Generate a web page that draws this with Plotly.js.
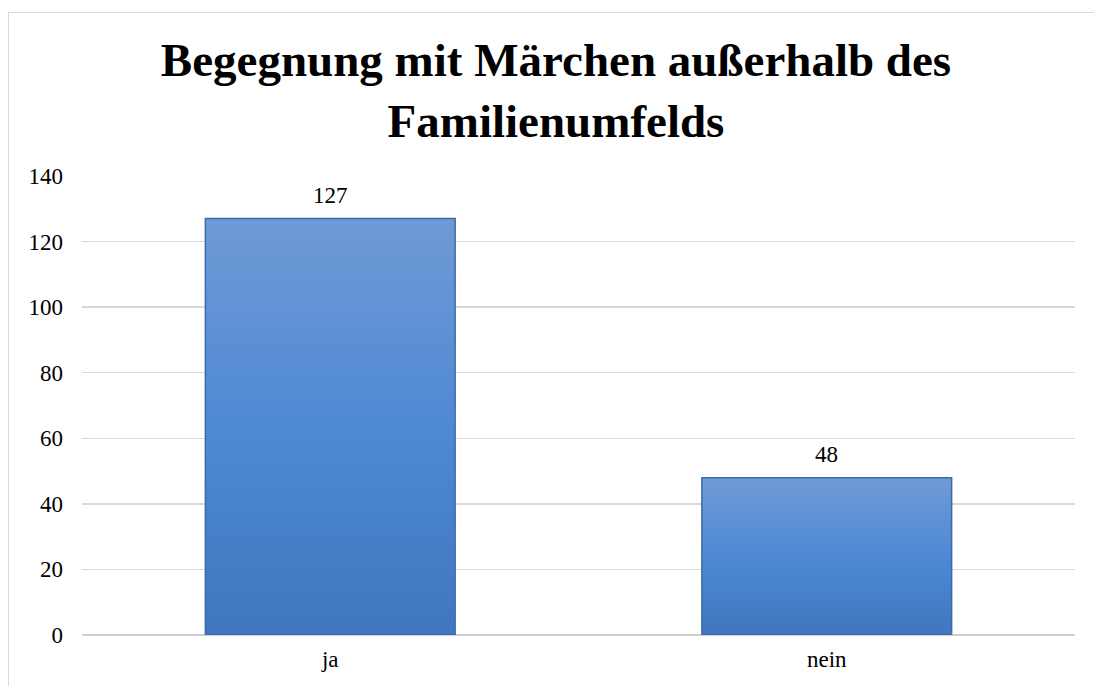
<!DOCTYPE html>
<html>
<head>
<meta charset="utf-8">
<script src="https://cdn.plot.ly/plotly-3.0.1.min.js"></script>
<style>
  html, body { margin: 0; padding: 0; background: #ffffff; }
  #wrap { position: relative; width: 1094px; height: 686px; overflow: hidden; }
  #chart { position: absolute; left: 0; top: 0; width: 1094px; height: 686px; }
  #frame { position: absolute; left: 8px; top: 12px; width: 1200px; height: 800px;
           border-left: 1.5px solid #d9d9d9; border-top: 1.5px solid #d9d9d9;
           pointer-events: none; box-sizing: border-box; }
</style>
</head>
<body>
<div id="wrap">
  <div id="chart"></div>
  <div id="frame"></div>
</div>
<script>
const categories = ["ja", "nein"];
const values = [127, 48];
const yTickValues = [0, 20, 40, 60, 80, 100, 120, 140];
const chartTitle = "Begegnung mit Märchen außerhalb des<br>Familienumfelds";

const serif = "Liberation Serif, Times New Roman, serif";

const trace = {
  type: "bar",
  x: categories,
  y: values,
  marker: { color: "#5089d4", line: { color: "#3b6aa6", width: 1.5 } },
  hoverinfo: "x+y"
};

const valueLabels = categories.map(function (c, i) {
  return {
    x: c, y: values[i], xref: "x", yref: "y",
    text: String(values[i]), showarrow: false,
    yanchor: "bottom", yshift: 9,
    font: { family: serif, size: 23, color: "#000000" }
  };
});

const layout = {
  width: 1094,
  height: 686,
  margin: { l: 82, r: 19, t: 176, b: 51 },
  paper_bgcolor: "#ffffff",
  plot_bgcolor: "#ffffff",
  bargap: 0.497,
  showlegend: false,
  annotations: valueLabels,
  title: {
    text: chartTitle,
    font: { family: serif, size: 47, color: "#000000", weight: "bold" },
    x: 556 / 1094,
    xanchor: "center",
    xref: "container",
    yref: "container",
    y: 1 - 76 / 686,
    yanchor: "middle"
  },
  xaxis: {
    type: "category",
    showgrid: false,
    zeroline: false,
    showline: false,
    ticks: "",
    tickfont: { family: serif, size: 23, color: "#000000" },
    ticklabelstandoff: 8
  },
  yaxis: {
    range: [0, 140],
    tickvals: yTickValues,
    ticktext: yTickValues.map(String),
    showgrid: true,
    gridcolor: "#d9d9d9",
    gridwidth: 1.3,
    zeroline: true,
    zerolinecolor: "#d0d0d0",
    zerolinewidth: 1.5,
    showline: false,
    ticks: "",
    ticklen: 0,
    tickfont: { family: serif, size: 23, color: "#000000" },
    ticklabelstandoff: 18
  }
};

Plotly.newPlot("chart", [trace], layout, { displayModeBar: false, staticPlot: true }).then(function (gd) {
  const svgNS = "http://www.w3.org/2000/svg";
  const svg = gd.querySelector("svg.main-svg");
  let defs = svg.querySelector("defs");
  if (!defs) { defs = document.createElementNS(svgNS, "defs"); svg.insertBefore(defs, svg.firstChild); }
  const grad = document.createElementNS(svgNS, "linearGradient");
  grad.setAttribute("id", "barGrad");
  grad.setAttribute("x1", "0"); grad.setAttribute("y1", "0");
  grad.setAttribute("x2", "0"); grad.setAttribute("y2", "1");
  [["0", "#6f9ad6"], ["0.5", "#4f89d4"], ["1", "#3f77bf"]].forEach(function (s) {
    const st = document.createElementNS(svgNS, "stop");
    st.setAttribute("offset", s[0]);
    st.setAttribute("stop-color", s[1]);
    grad.appendChild(st);
  });
  defs.appendChild(grad);
  gd.querySelectorAll(".bars .point path").forEach(function (p) {
    p.style.fill = "url(#barGrad)";
    p.style.fillOpacity = "1";
  });
});
</script>
</body>
</html>
